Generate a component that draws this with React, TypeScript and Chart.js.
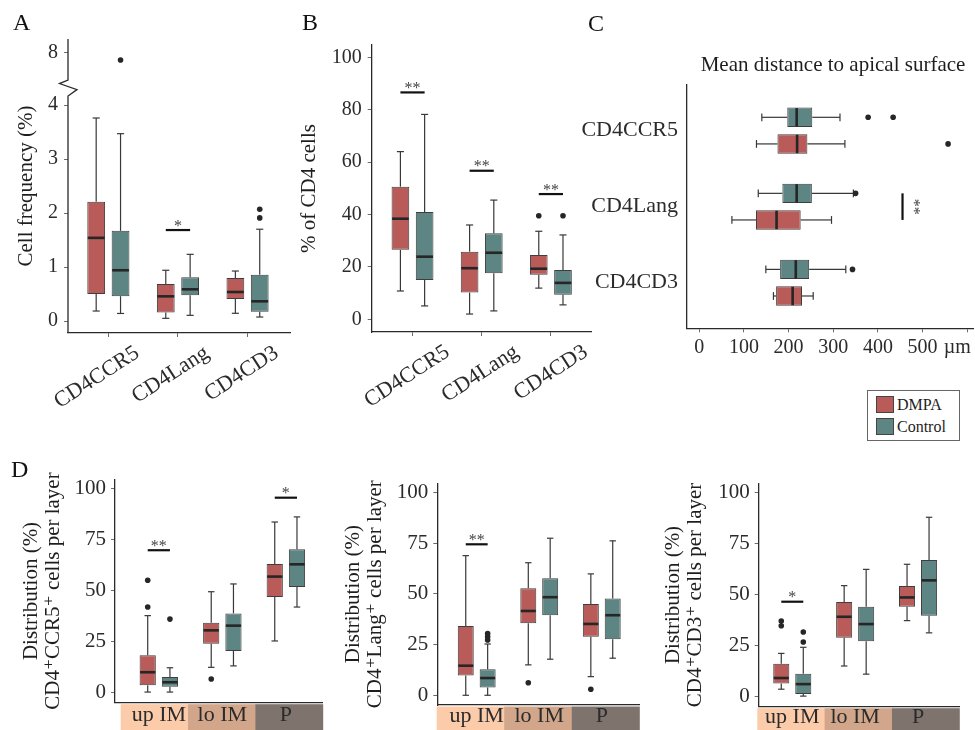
import React, { useEffect, useRef } from 'react';
import { Chart, registerables, LinearScale } from 'chart.js';

// ---------------- data ----------------
// box statistics: [min whisker, q1, median, q3, max whisker]
const CATS_ABC = ['CD4CCR5', 'CD4Lang', 'CD4CD3'];
const CATS_D = ['up IM', 'lo IM', 'P'];

const A_DMPA = [[0.185, 0.5, 1.54, 2.21, 3.76], [0.05, 0.16, 0.457, 0.685, 0.94], [0.143, 0.407, 0.537, 0.796, 0.926]];
const A_DMPA_OUT = [[], [], []];
const A_CTRL = [[0.14, 0.46, 0.94, 1.67, 3.47], [0.105, 0.476, 0.587, 0.81, 1.235], [0.074, 0.172, 0.365, 0.857, 1.7]];
const A_CTRL_OUT = [[7.8], [], [1.91, 2.07]];
const A_TICKS = [0, 1, 2, 3, 4, 8];
const A_SIG = [{ cat: 1, v: 1.685, label: '*' }];

const B_DMPA = [[10.8, 26.5, 38.4, 50.6, 64.0], [2.0, 10.2, 19.5, 25.8, 36.0], [11.9, 17.0, 19.3, 24.5, 33.6]];
const B_DMPA_OUT = [[], [], [39.5]];
const B_CTRL = [[5.1, 15.0, 23.9, 41.0, 78.2], [3.2, 17.6, 25.4, 32.8, 45.5], [5.5, 9.4, 13.9, 18.8, 32.2]];
const B_CTRL_OUT = [[], [], [39.5]];
const B_TICKS = [0, 20, 40, 60, 80, 100];
const B_SIG = [{ cat: 0, v: 86.6, label: '**' }, { cat: 1, v: 56.7, label: '**' }, { cat: 2, v: 47.8, label: '**' }];

const C_DMPA = [[128, 175, 219, 242, 326], [73, 127, 173, 227, 296], [166, 172, 209, 230, 255]];
const C_DMPA_OUT = [[557], [], []];
const C_CTRL = [[140, 197, 218, 253, 315], [132, 186, 218, 252, 345], [149, 181, 216, 246, 328]];
const C_CTRL_OUT = [[378, 434], [350], [343]];
const C_TICKS = [0, 100, 200, 300, 400, 500, 600];
const C_UNIT = 'µm';
const C_SIG = [{ cat: 1, v: 455, label: '**' }];

const D1_DMPA = [[0.3, 3.6, 10.0, 18.3, 37.7], [12.4, 24.0, 30.5, 34.2, 49.4], [25.3, 46.8, 56.8, 63.0, 83.5]];
const D1_DMPA_OUT = [[41.9, 55.0], [6.7], []];
const D1_CTRL = [[0.3, 2.9, 5.1, 7.7, 12.2], [13.1, 20.4, 32.8, 38.8, 53.2], [41.9, 51.7, 62.8, 70.2, 86.0]];
const D1_CTRL_OUT = [[36.0], [], []];
const D1_SIG = [{ cat: 0, v: 69.7, label: '**' }, { cat: 2, v: 95.4, label: '*' }];

const D2_DMPA = [[0, 9.7, 14.6, 34.2, 68.9], [15.0, 35.5, 41.6, 52.8, 65.4], [9.2, 28.9, 35.2, 45.0, 59.9]];
const D2_DMPA_OUT = [[], [6.2], [3.0]];
const D2_CTRL = [[0, 3.8, 8.5, 12.8, 25.3], [17.8, 39.5, 48.4, 57.7, 77.5], [18.3, 27.6, 39.5, 47.7, 76.2]];
const D2_CTRL_OUT = [[27.3, 28.9, 30.4], [], []];
const D2_SIG = [{ cat: 0, v: 74.5, label: '**' }];

const D3_DMPA = [[3.4, 6.2, 8.9, 15.9, 21.0], [14.8, 28.7, 39.0, 46.2, 54.3], [37.1, 43.9, 48.5, 54.1, 64.8]];
const D3_DMPA_OUT = [[34.6, 36.9], [], []];
const D3_CTRL = [[0, 1.0, 5.9, 11.0, 24.0], [10.8, 27.0, 35.4, 43.9, 62.3], [31.1, 39.5, 56.9, 66.9, 87.9]];
const D3_CTRL_OUT = [[26.6, 31.5], [], []];
const D3_SIG = [{ cat: 0, v: 46.4, label: '*' }];
const D_TICKS = [0, 25, 50, 75, 100];

// ---------------- style ----------------
const FONT = "'Liberation Serif', 'DejaVu Serif', serif";
const RED = '#b85b59';
const TEAL = '#5c8583';
const EDGE = '#3e3e3e';
const AXIS = '#2a2a2a';
const TICK = '#6a6a6a';
const TEXT = '#2b2b2b';
const TITLE = '#1e1e1e';
const BAND_COLORS = ['#fbcbaa', '#d1a68b', '#7e746d'];

// broken axis of panel A (lower segment / upper segment)
const A_LOW_MIN = -0.222, A_LOW_MAX = 4.167, A_HIGH_MIN = 7.25, A_HIGH_MAX = 8.375;
const A_LOW_FRAC = 0.806, A_HIGH_FRAC = 0.8605;

class BrokenLinearScale extends (LinearScale as any) {
  static id = 'brokenLinear';
  getPixelForValue(value: number) {
    let dec: number;
    if (value <= A_LOW_MAX) dec = ((value - A_LOW_MIN) / (A_LOW_MAX - A_LOW_MIN)) * A_LOW_FRAC;
    else dec = A_HIGH_FRAC + ((value - A_HIGH_MIN) / (A_HIGH_MAX - A_HIGH_MIN)) * (1 - A_HIGH_FRAC);
    return (this as any).getPixelForDecimal(dec);
  }
  getValueForPixel(pixel: number) {
    const dec = (this as any).getDecimalForPixel(pixel);
    if (dec <= A_LOW_FRAC) return A_LOW_MIN + (dec / A_LOW_FRAC) * (A_LOW_MAX - A_LOW_MIN);
    return A_HIGH_MIN + ((dec - A_HIGH_FRAC) / (1 - A_HIGH_FRAC)) * (A_HIGH_MAX - A_HIGH_MIN);
  }
}

Chart.register(...registerables, BrokenLinearScale as any);
Chart.defaults.font.family = FONT;

interface Series { label: string; color: string; stats: number[][]; out: number[][] }
interface Sig { cat: number; v: number; label: string }
interface Panel {
  id: string; left: number; top: number; width: number; height: number;
  area: { l: number; t: number; r: number; b: number };
  cats: string[]; series: Series[]; sig: Sig[];
  horizontal?: boolean; vType?: string; vMin: number; vMax: number; vTicks: number[];
  vTickText?: (v: number) => string;
  catStart: number; catRange: number;
  title?: string | string[]; titlePad?: number; titleLH?: number;
  catFont: number; catLH: number; catRot?: number; catOffset?: number; catPad: number; catTicks: boolean;
  vPad: number; vFont: number;
  bandShift?: number; broken?: boolean;
}

const dmpa = (stats: number[][], out: number[][]): Series => ({ label: 'DMPA', color: RED, stats, out });
const ctrl = (stats: number[][], out: number[][]): Series => ({ label: 'Control', color: TEAL, stats, out });

const PANELS: Panel[] = [
  {
    id: 'A', left: 0, top: 0, width: 300, height: 420, area: { l: 68, t: 39, r: 290, b: 333 },
    cats: CATS_ABC, series: [dmpa(A_DMPA, A_DMPA_OUT), ctrl(A_CTRL, A_CTRL_OUT)], sig: A_SIG,
    vType: 'brokenLinear', vMin: A_LOW_MIN, vMax: A_HIGH_MAX, vTicks: A_TICKS, broken: true,
    catStart: -0.58, catRange: 3.19, title: 'Cell frequency (%)', titlePad: 14,
    catFont: 22, catLH: 1.2, catRot: 33, catOffset: 29, catPad: 3, catTicks: true, vPad: 6, vFont: 20,
  },
  {
    id: 'B', left: 290, top: 0, width: 310, height: 420, area: { l: 81.7, t: 45, r: 301.7, b: 332 },
    cats: CATS_ABC, series: [dmpa(B_DMPA, B_DMPA_OUT), ctrl(B_CTRL, B_CTRL_OUT)], sig: B_SIG,
    vMin: -4.85, vMax: 104.7, vTicks: B_TICKS,
    catStart: -0.59, catRange: 3.18, title: '% of CD4 cells', titlePad: 7,
    catFont: 22, catLH: 1.2, catRot: 33, catOffset: 35, catPad: 3, catTicks: true, vPad: 6, vFont: 20,
  },
  {
    id: 'C', left: 580, top: 40, width: 395, height: 330, area: { l: 106.7, t: 45, r: 393, b: 288.3 },
    cats: CATS_ABC, series: [ctrl(C_CTRL, C_CTRL_OUT), dmpa(C_DMPA, C_DMPA_OUT)], sig: C_SIG,
    horizontal: true, vMin: -28.2, vMax: 612.8, vTicks: C_TICKS,
    vTickText: (v) => (v === 600 ? C_UNIT + '\u2003' : String(v)),
    catStart: -0.6, catRange: 3.2,
    catFont: 22, catLH: 1.2, catPad: 8.7, catTicks: false, vPad: 3.5, vFont: 20,
  },
  {
    id: 'D1', left: 0, top: 460, width: 330, height: 270, area: { l: 115, t: 19.3, r: 322.7, b: 242.7 },
    cats: CATS_D, series: [dmpa(D1_DMPA, D1_DMPA_OUT), ctrl(D1_CTRL, D1_CTRL_OUT)], sig: D1_SIG,
    vMin: -4.9, vMax: 104.4, vTicks: D_TICKS, catStart: -0.69, catRange: 3.27,
    title: ['Distribution (%)', 'CD4\u207ACCR5\u207A cells per layer'], titlePad: 20, titleLH: 1.05,
    catFont: 22, catLH: 1.0, catPad: 2, catTicks: false, vPad: 5, vFont: 21, bandShift: 5.7,
  },
  {
    id: 'D2', left: 330, top: 460, width: 320, height: 270, area: { l: 107.3, t: 23.3, r: 309.3, b: 245 },
    cats: CATS_D, series: [dmpa(D2_DMPA, D2_DMPA_OUT), ctrl(D2_CTRL, D2_CTRL_OUT)], sig: D2_SIG,
    vMin: -4.8, vMax: 104.6, vTicks: D_TICKS, catStart: -0.63, catRange: 3.23,
    title: ['Distribution (%)', 'CD4\u207ALang\u207A cells per layer'], titlePad: 12, titleLH: 1.05,
    catFont: 22, catLH: 1.0, catPad: 0, catTicks: false, vPad: 5, vFont: 21, bandShift: -0.6,
  },
  {
    id: 'D3', left: 650, top: 460, width: 325, height: 270, area: { l: 108.7, t: 23.3, r: 309.3, b: 246.7 },
    cats: CATS_D, series: [dmpa(D3_DMPA, D3_DMPA_OUT), ctrl(D3_CTRL, D3_CTRL_OUT)], sig: D3_SIG,
    vMin: -5.2, vMax: 104.6, vTicks: D_TICKS, catStart: -0.534, catRange: 3.19,
    title: ['Distribution (%)', 'CD4\u207ACD3\u207A cells per layer'], titlePad: 12, titleLH: 1.05,
    catFont: 22, catLH: 1.0, catPad: 0, catTicks: false, vPad: 5, vFont: 21, bandShift: -1.4,
  },
];

function makeExtras(p: Panel) {
  const hz = !!p.horizontal;
  return {
    id: 'boxExtras' + p.id,
    beforeDraw(chart: any) {
      if (p.bandShift === undefined) return;
      const { ctx, chartArea: ca } = chart;
      const x0 = ca.left + p.bandShift;
      const w = (ca.right - x0) / 3;
      const y0 = ca.bottom + 1.5;
      ctx.save();
      BAND_COLORS.forEach((c, i) => {
        ctx.fillStyle = c;
        ctx.fillRect(x0 + i * w, y0, w + 0.5, chart.height - y0);
      });
      ctx.restore();
    },
    afterDatasetsDraw(chart: any) {
      const ctx = chart.ctx;
      const vs = chart.scales[hz ? 'x' : 'y'];
      const P = (v: number) => vs.getPixelForValue(v);
      const seg = (c: number, v1: number, v2: number) => {
        ctx.beginPath();
        if (hz) { ctx.moveTo(P(v1), c); ctx.lineTo(P(v2), c); }
        else { ctx.moveTo(c, P(v1)); ctx.lineTo(c, P(v2)); }
        ctx.stroke();
      };
      const cross = (c: number, half: number, v: number) => {
        const pv = P(v);
        ctx.beginPath();
        if (hz) { ctx.moveTo(pv, c - half); ctx.lineTo(pv, c + half); }
        else { ctx.moveTo(c - half, pv); ctx.lineTo(c + half, pv); }
        ctx.stroke();
      };
      ctx.save();
      p.series.forEach((s, di) => {
        const meta = chart.getDatasetMeta(di);
        meta.data.forEach((el: any, i: number) => {
          const st = s.stats[i];
          const c = hz ? el.y : el.x;
          const thick = hz ? el.height : el.width;
          ctx.strokeStyle = '#383838';
          ctx.lineWidth = 1.2;
          seg(c, st[0], st[1]);
          seg(c, st[3], st[4]);
          cross(c, thick * 0.2, st[0]);
          cross(c, thick * 0.2, st[4]);
          ctx.strokeStyle = '#262626';
          ctx.lineWidth = 2.6;
          cross(c, thick / 2 - 0.5, st[2]);
          ctx.fillStyle = '#262626';
          s.out[i].forEach((v) => {
            ctx.beginPath();
            if (hz) ctx.arc(P(v), c, 2.8, 0, Math.PI * 2);
            else ctx.arc(c, P(v), 2.8, 0, Math.PI * 2);
            ctx.fill();
          });
        });
      });
      // significance marks
      p.sig.forEach((g) => {
        const e0 = chart.getDatasetMeta(0).data[g.cat];
        const e1 = chart.getDatasetMeta(1).data[g.cat];
        const a = hz ? e0.y : e0.x;
        const b = hz ? e1.y : e1.x;
        const pv = P(g.v);
        ctx.strokeStyle = '#111';
        ctx.lineWidth = 2.2;
        ctx.beginPath();
        if (hz) { ctx.moveTo(pv, a); ctx.lineTo(pv, b); }
        else { ctx.moveTo(a, pv); ctx.lineTo(b, pv); }
        ctx.stroke();
        ctx.fillStyle = '#444';
        ctx.font = `16px ${FONT}`;
        ctx.textAlign = 'center';
        ctx.textBaseline = 'alphabetic';
        if (hz) {
          ctx.save();
          ctx.translate(pv + 6, (a + b) / 2);
          ctx.rotate(Math.PI / 2);
          ctx.fillText(g.label, 0, 0);
          ctx.restore();
        } else {
          ctx.fillText(g.label, (a + b) / 2, pv + 0.5);
        }
      });
      ctx.restore();
    },
    afterDraw(chart: any) {
      if (!p.broken) return;
      const { ctx, chartArea: ca } = chart;
      const vs = chart.scales.y;
      const x = ca.left;
      const yB = vs.getPixelForValue(A_LOW_MAX);
      const yA = vs.getPixelForValue(A_HIGH_MIN);
      const h = yB - yA;
      ctx.save();
      ctx.strokeStyle = AXIS;
      ctx.lineWidth = 1.3;
      ctx.beginPath();
      ctx.moveTo(x, ca.bottom);
      ctx.lineTo(x, yB);
      ctx.lineTo(x + 9, yA + 0.6 * h);
      ctx.lineTo(x - 8.5, yA + 0.22 * h);
      ctx.lineTo(x, yA);
      ctx.lineTo(x, ca.top);
      ctx.stroke();
      ctx.restore();
    },
  };
}

function buildConfig(p: Panel): any {
  const hz = !!p.horizontal;
  const zeroPad = (s: any) => { s.paddingLeft = 0; s.paddingRight = 0; s.paddingTop = 0; s.paddingBottom = 0; };
  const catScale: any = {
    type: 'category',
    position: hz ? 'left' : 'bottom',
    offset: true,
    grid: { display: p.catTicks, drawOnChartArea: false, drawTicks: p.catTicks, tickLength: 4, color: TICK, lineWidth: 1, offset: false },
    border: { display: true, color: AXIS, width: 1.3 },
    ticks: {
      autoSkip: false, color: TEXT,
      font: { family: FONT, size: p.catFont, lineHeight: p.catLH },
      padding: p.catPad, minRotation: p.catRot || 0, maxRotation: p.catRot || 0, labelOffset: p.catOffset || 0,
    },
    afterBuildTicks: (s: any) => { s._startValue = p.catStart; s._valueRange = p.catRange; },
    afterFit: (s: any) => { if (hz) s.width = p.area.l; else s.height = p.height - p.area.b; zeroPad(s); },
  };
  const valScale: any = {
    type: p.vType || 'linear',
    position: hz ? 'bottom' : 'left',
    min: p.vMin, max: p.vMax,
    grid: { display: true, drawOnChartArea: false, drawTicks: true, tickLength: 4, color: TICK, lineWidth: 1 },
    border: { display: !p.broken, color: AXIS, width: 1.3 },
    ticks: {
      color: TEXT, font: { family: FONT, size: p.vFont }, padding: p.vPad,
      autoSkip: false, minRotation: 0, maxRotation: 0,
      callback: (v: any) => (p.vTickText ? p.vTickText(Number(v)) : String(v)),
    },
    title: p.title
      ? { display: true, text: p.title, color: TITLE, font: { family: FONT, size: 21, lineHeight: p.titleLH || 1.2 }, padding: { top: p.titlePad || 0, bottom: 0 } }
      : { display: false },
    afterBuildTicks: (s: any) => { s.ticks = p.vTicks.map((v) => ({ value: v })); },
    afterFit: (s: any) => { if (hz) s.height = p.height - p.area.b; else s.width = p.area.l; zeroPad(s); },
  };
  return {
    type: 'bar',
    data: {
      labels: p.cats,
      datasets: p.series.map((s) => ({
        label: s.label,
        data: s.stats.map((st) => [st[1], st[3]]),
        backgroundColor: s.color,
        borderColor: EDGE,
        borderWidth: 1,
        borderSkipped: false,
        categoryPercentage: 0.7,
        barPercentage: 0.73,
      })),
    },
    options: {
      indexAxis: hz ? 'y' : 'x',
      responsive: false,
      maintainAspectRatio: false,
      animation: false,
      events: [],
      layout: { padding: { left: 0, top: p.area.t, right: p.width - p.area.r, bottom: 0 } },
      plugins: { legend: { display: false }, tooltip: { enabled: false }, title: { display: false } },
      scales: hz ? { y: catScale, x: valScale } : { x: catScale, y: valScale },
    },
    plugins: [makeExtras(p)],
  };
}

function BoxPanel({ p }: { p: Panel }) {
  const ref = useRef<HTMLCanvasElement>(null);
  useEffect(() => {
    const chart = new Chart(ref.current as HTMLCanvasElement, buildConfig(p));
    return () => chart.destroy();
  }, [p]);
  return (
    <canvas
      ref={ref}
      width={p.width}
      height={p.height}
      style={{ position: 'absolute', left: p.left, top: p.top, width: p.width, height: p.height }}
    />
  );
}

const txt = (left: number, baseline: number, size: number, extra: React.CSSProperties = {}): React.CSSProperties => ({
  position: 'absolute', left, top: baseline - 0.8375 * size, fontSize: size, lineHeight: `${size}px`,
  fontFamily: FONT, color: '#111', whiteSpace: 'nowrap', ...extra,
});

export default function App() {
  return (
    <div style={{ position: 'absolute', left: 0, top: 0, width: 975, height: 730, background: '#fff', overflow: 'hidden' }}>
      {PANELS.map((p) => <BoxPanel key={p.id} p={p} />)}
      <div style={txt(13, 30, 24)}>A</div>
      <div style={txt(302, 30, 24)}>B</div>
      <div style={txt(588, 31, 24)}>C</div>
      <div style={txt(11, 477, 24)}>D</div>
      <div style={txt(633, 72, 21, { width: 400, textAlign: 'center', color: TITLE })}>Mean distance to apical surface</div>
      <div style={{ position: 'absolute', left: 867, top: 390, width: 93, height: 51, boxSizing: 'border-box', border: '1px solid #666', background: '#fff' }} />
      <div style={{ position: 'absolute', left: 876, top: 396, width: 18, height: 17, boxSizing: 'border-box', border: '1px solid #444', background: RED }} />
      <div style={{ position: 'absolute', left: 876, top: 418, width: 18, height: 17, boxSizing: 'border-box', border: '1px solid #444', background: TEAL }} />
      <div style={txt(897, 410, 16, { color: TITLE })}>DMPA</div>
      <div style={txt(897, 432, 16, { color: TITLE })}>Control</div>
    </div>
  );
}
